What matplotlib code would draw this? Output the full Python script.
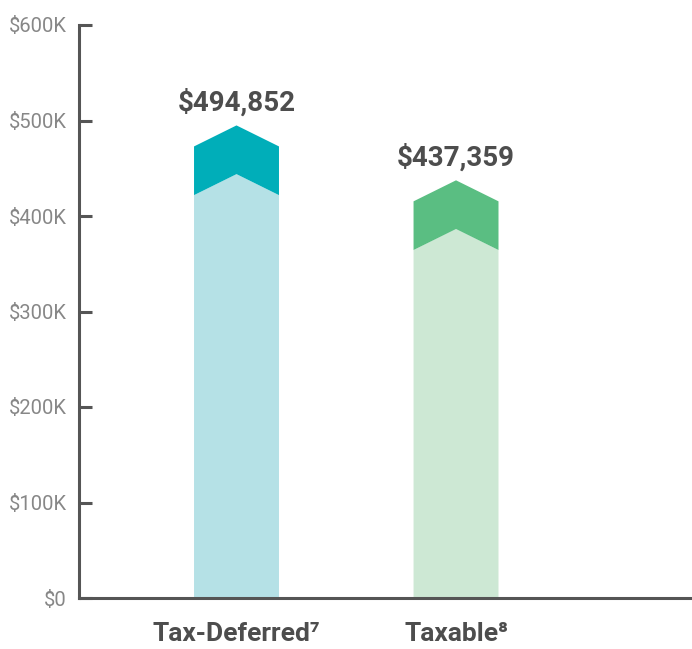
import matplotlib.pyplot as plt
from matplotlib.patches import Polygon

# data
categories = ['Tax-Deferred⁷', 'Taxable⁸']
values = [494852, 437359]
dark_colors = ['#00AEB9', '#5ABE82']
light_colors = ['#B5E1E6', '#CDE8D4']
y_ticks = [0, 100000, 200000, 300000, 400000, 500000, 600000]
y_labels = ['$0', '$100K', '$200K', '$300K', '$400K', '$500K', '$600K']

rise = 22000    # chevron height
thick = 51000   # darker cap thickness
width = 0.387

plt.rcParams['font.family'] = ['Roboto', 'DejaVu Sans']

fig = plt.figure(figsize=(6.92, 6.49), dpi=100)
ax = fig.add_axes([79 / 692, 51 / 649, 613 / 692, 573 / 649])

for i, v in enumerate(values):
    l, r = i - width / 2, i + width / 2
    # light body with chevron top
    body = [(l, 0), (l, v - thick - rise), (i, v - thick), (r, v - thick - rise), (r, 0)]
    ax.add_patch(Polygon(body, closed=True, facecolor=light_colors[i], edgecolor='none'))
    # darker chevron cap
    cap = [(l, v - thick - rise), (l, v - rise), (i, v), (r, v - rise), (r, v - thick - rise), (i, v - thick)]
    ax.add_patch(Polygon(cap, closed=True, facecolor=dark_colors[i], edgecolor='none'))
    ax.annotate('${:,}'.format(v), (i, v), xytext=(0, 6), textcoords='offset points',
                ha='center', va='bottom', fontsize=20, fontweight='bold', color='#4D4D4D')

ax.set_xlim(-0.7175, 2.075)
ax.set_ylim(0, 600000)

for s in ['top', 'right']:
    ax.spines[s].set_visible(False)
for s in ['left', 'bottom']:
    ax.spines[s].set_color('#555555')
    ax.spines[s].set_linewidth(2.2)

ax.set_yticks(y_ticks)
ax.set_yticklabels(y_labels, fontsize=14.5, color='#878787', fontweight='normal')
ax.tick_params(axis='y', direction='in', length=9.5, width=2.2, color='#555555', pad=9)

ax.set_xticks(range(len(categories)))
ax.set_xticklabels(categories, fontsize=19, fontweight='bold', color='#4D4D4D')
ax.tick_params(axis='x', length=0, pad=17)

plt.savefig('out.png', dpi=100)
